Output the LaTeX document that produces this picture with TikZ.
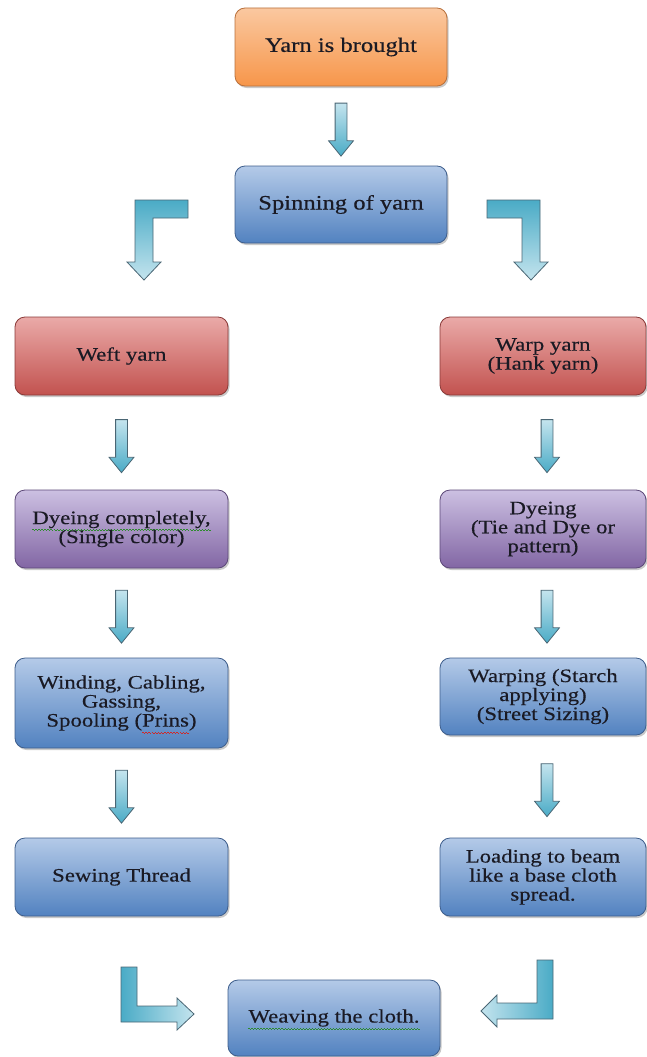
\documentclass[tikz,border=0pt]{standalone}
\usepackage{fontspec}
\setmainfont{Liberation Serif}[FakeStretch=1.2,FakeBold=0.4]
\usepackage{tikz}
\usetikzlibrary{arrows,positioning,shapes,shadows}

\definecolor{txt}{HTML}{1A1A24}
\definecolor{orangetop}{HTML}{FAC8A0}
\definecolor{orangebot}{HTML}{F7964A}
\definecolor{orangeline}{HTML}{B8703C}
\definecolor{bluetop}{HTML}{B4CAE8}
\definecolor{bluebot}{HTML}{5282C0}
\definecolor{blueline}{HTML}{3E5E8C}
\definecolor{redtop}{HTML}{EAAAA8}
\definecolor{redbot}{HTML}{C2524F}
\definecolor{redline}{HTML}{8A3A38}
\definecolor{purpletop}{HTML}{CCC0E2}
\definecolor{purplebot}{HTML}{8266A4}
\definecolor{purpleline}{HTML}{5C4878}
\definecolor{arrowtop}{HTML}{C4E4EE}
\definecolor{arrowbot}{HTML}{4AABC6}
\definecolor{arrowline}{HTML}{4A6674}
\definecolor{grammarline}{HTML}{2E8A2E}
\definecolor{spellline}{HTML}{D02828}

\newcommand\wavy[2]{\setbox0\hbox{#2}\rlap{\raisebox{0pt}[0pt][0pt]{\color{#1}\hbox to\wd0{%
 \xleaders\hbox{\rule[-5.6pt]{1.5pt}{0.6pt}\rule[-6.6pt]{1.5pt}{0.6pt}}\hfill}}}\copy0}

\begin{document}
\begin{tikzpicture}[x=1pt,y=-1pt,
box/.style={rounded corners=10pt,minimum width=213pt,minimum height=78pt,align=center,
 text=txt,inner sep=2pt,line width=0.8pt,font=\fontsize{19}{19}\selectfont,
 drop shadow={shadow xshift=1.5pt,shadow yshift=-2pt,opacity=0.3,fill=black!70}},
orangebox/.style={box,top color=orangetop,bottom color=orangebot,draw=orangeline},
bluebox/.style={box,top color=bluetop,bottom color=bluebot,draw=blueline},
redbox/.style={box,top color=redtop,bottom color=redbot,draw=redline},
purplebox/.style={box,top color=purpletop,bottom color=purplebot,draw=purpleline},
bigtext/.style={font=\fontsize{20.5}{20.5}\selectfont},
downarrow/.style={single arrow,shape border rotate=270,draw=arrowline,line width=0.8pt,
 top color=arrowtop,bottom color=arrowbot,minimum height=53pt,minimum width=24pt,
 inner sep=5.5pt,single arrow head extend=6.5pt,single arrow tip angle=78},
bentarrow/.style={draw=arrowline,line width=0.8pt,line join=miter}]
\useasboundingbox (0,0) rectangle (647,1057);

\node[orangebox,bigtext,minimum width=212pt] (yarn) at (341,47) {Yarn is brought};
\node[bluebox,bigtext,minimum width=212pt,minimum height=77pt] (spin) at (341,204.5) {Spinning of yarn};
\node[redbox] (weft) at (121.5,356) {Weft yarn};
\node[redbox,minimum width=206pt] (warp) at (543,356) {Warp yarn\\(Hank yarn)};
\node[purplebox] (dyel) at (121.5,529) {\wavy{grammarline}{Dyeing completely,}\\(Single color)};
\node[purplebox,minimum width=206pt] (dyer) at (543,529) {Dyeing\\(Tie and Dye or\\pattern)};
\node[bluebox,minimum height=90pt] (wind) at (121.5,703) {Winding, Cabling,\\Gassing,\\Spooling (\wavy{spellline}{Prins})};
\node[bluebox,minimum width=206pt,minimum height=77pt] (warping) at (543,696.5) {Warping (Starch\\applying)\\(Street Sizing)};
\node[bluebox] (sew) at (121.5,877) {Sewing Thread};
\node[bluebox,minimum width=206pt] (load) at (543,877) {Loading to beam\\like a base cloth\\spread.};
\node[bluebox,minimum width=212pt,minimum height=76pt] (weave) at (334,1018) {\wavy{grammarline}{Weaving the cloth.}};

\path (yarn.south) -- node[downarrow] {} (spin.north);
\path (weft.south) -- node[downarrow] {} (dyel.north);
\path (dyel.south) -- node[downarrow] {} (wind.north);
\path (wind.south) -- node[downarrow] {} (sew.north);
\path ([xshift=4pt]warp.south) -- node[downarrow] {} ([xshift=4pt]dyer.north);
\path ([xshift=4pt]dyer.south) -- node[downarrow] {} ([xshift=4pt]warping.north);
\path ([xshift=4pt]warping.south) -- node[downarrow] {} ([xshift=4pt]load.north);

\draw[bentarrow,top color=arrowbot,bottom color=arrowtop] (188,200)--(135,200)--(135,262)--(127,262)
 --(144,280)--(161,262)--(153,262)--(153,218)--(188,218)--cycle;
\draw[bentarrow,top color=arrowbot,bottom color=arrowtop] (487,200)--(540,200)--(540,262)--(548,262)
 --(531,280)--(514,262)--(522,262)--(522,218)--(487,218)--cycle;
\draw[bentarrow,left color=arrowbot,right color=arrowtop] (121,967)--(137,967)--(137,1006)--(177,1006)
 --(177,998)--(194,1014)--(177,1030)--(177,1022)--(121,1022)--cycle;
\draw[bentarrow,right color=arrowbot,left color=arrowtop] (553,960)--(537,960)--(537,1003)--(497,1003)
 --(497,995)--(481,1011)--(497,1027)--(497,1019)--(553,1019)--cycle;
\end{tikzpicture}
\end{document}
